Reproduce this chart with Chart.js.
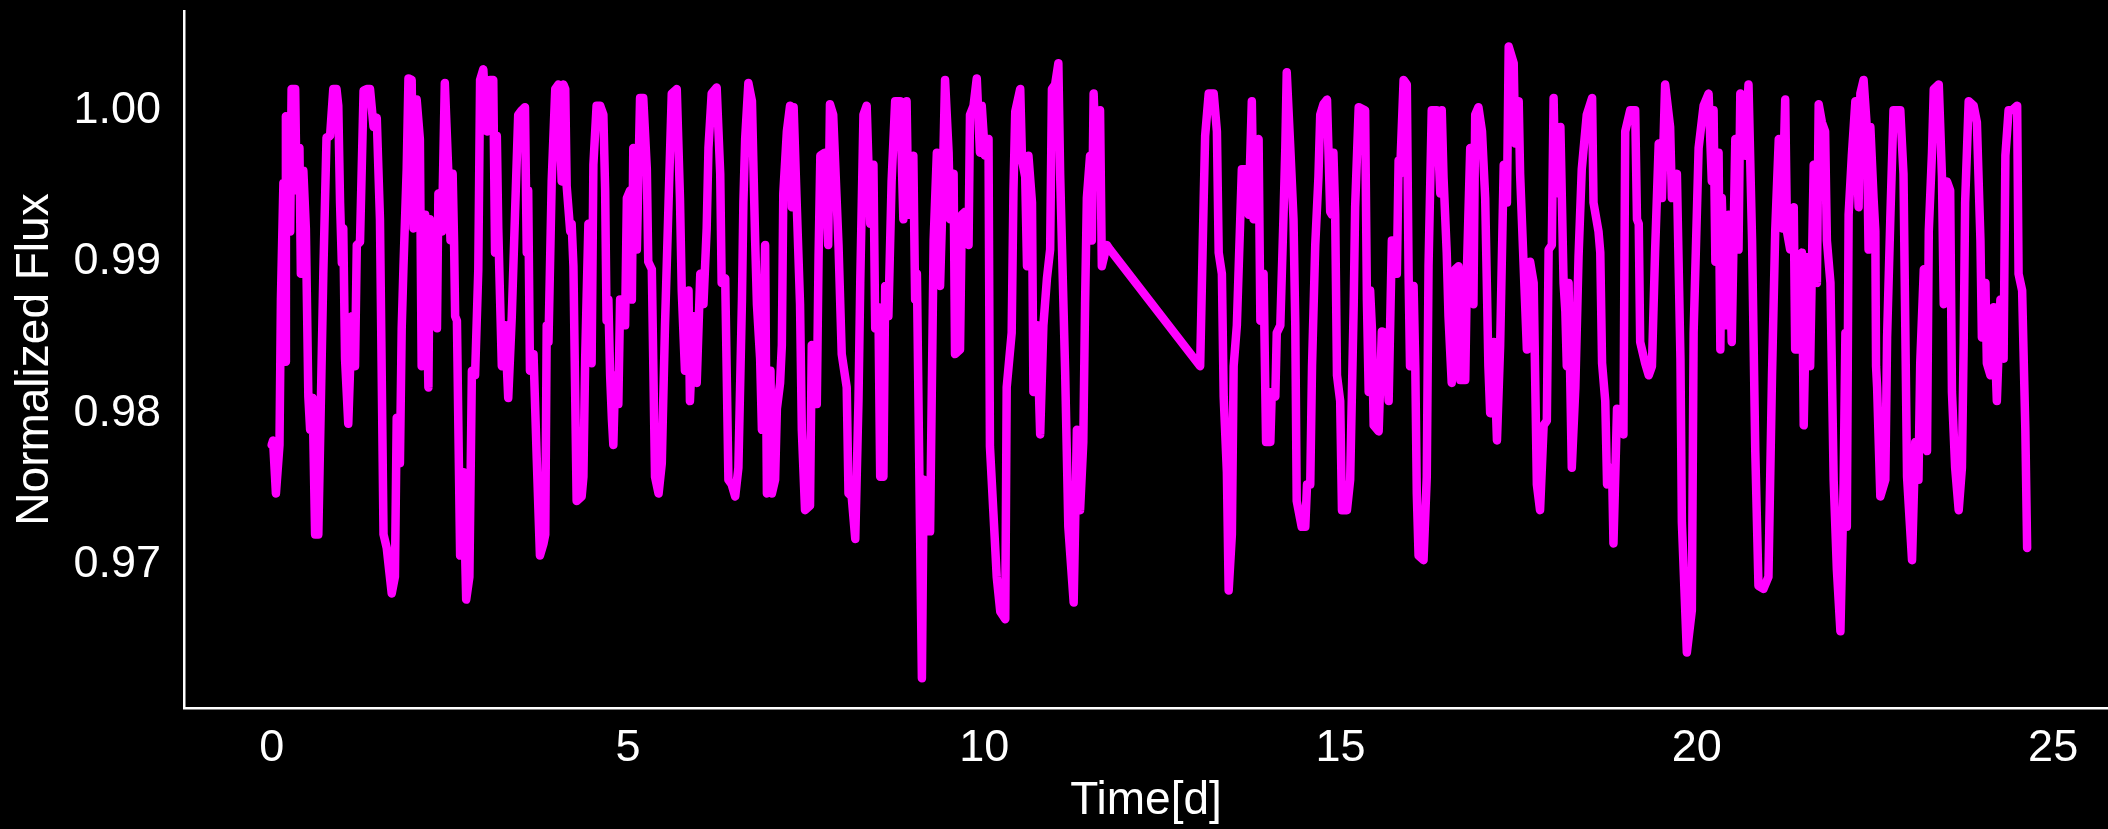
<!DOCTYPE html>
<html>
<head>
<meta charset="utf-8">
<script src="https://cdn.jsdelivr.net/npm/chart.js@4"></script>
<style>
  html, body { margin: 0; padding: 0; background: #000; }
  #wrap { width: 2108px; height: 829px; }
</style>
</head>
<body>
<div id="wrap"><canvas id="lc" width="2108" height="829"></canvas></div>
<script>
// light curve: [time (d), normalized flux]
const orbit1 = [
  [0.00, 0.9779], [0.02, 0.9782], [0.06, 0.9747], [0.11, 0.9779], [0.13, 0.9875], [0.165, 0.9952],
  [0.19, 0.9834], [0.20, 0.9996], [0.26, 0.9920], [0.28, 1.0014], [0.33, 1.0014], [0.35, 0.9947],
  [0.39, 0.9975], [0.41, 0.9892], [0.445, 0.9960], [0.48, 0.9922], [0.515, 0.9811], [0.54, 0.9789],
  [0.575, 0.9810], [0.61, 0.9720], [0.655, 0.9720], [0.725, 0.9892], [0.77, 0.9982], [0.82, 0.9983],
  [0.865, 1.0014], [0.91, 1.0014], [0.935, 1.0003], [0.96, 0.9939], [0.985, 0.9899], [1.005, 0.9922],
  [1.03, 0.9836], [1.075, 0.9793], [1.125, 0.9864], [1.17, 0.9831], [1.195, 0.9911], [1.24, 0.9913],
  [1.29, 1.0013], [1.335, 1.0014], [1.38, 1.0014], [1.43, 0.9989], [1.475, 0.9995], [1.52, 0.9928],
  [1.57, 0.9720], [1.615, 0.9711], [1.685, 0.9681], [1.73, 0.9692], [1.755, 0.9797], [1.80, 0.9767],
  [1.825, 0.9856], [1.85, 0.9897], [1.895, 0.9961], [1.92, 1.0021], [1.965, 1.0020], [1.99, 0.9922],
  [2.035, 1.0007], [2.08, 0.9981], [2.105, 0.9831], [2.155, 0.9931], [2.20, 0.9817],
  [2.22, 0.9928], [2.27, 0.9903], [2.32, 0.9856], [2.34, 0.9945], [2.39, 0.9920], [2.43, 1.0018],
  [2.48, 0.9958], [2.51, 0.9914], [2.54, 0.9958], [2.56, 0.9913], [2.575, 0.9864], [2.60, 0.9861],
  [2.645, 0.9706], [2.69, 0.9761], [2.73, 0.9677], [2.775, 0.9692], [2.81, 0.9828], [2.855, 0.9825],
  [2.90, 0.9895], [2.925, 1.0020], [2.97, 1.0027], [3.02, 0.9986], [3.065, 1.0020], [3.11, 1.0020],
  [3.135, 0.9906], [3.16, 0.9983], [3.18, 0.9922], [3.23, 0.9831], [3.275, 0.9858], [3.32, 0.9810],
  [3.37, 0.9864], [3.415, 0.9931], [3.46, 0.9997], [3.51, 1.0000], [3.555, 1.0002], [3.58, 0.9906],
  [3.60, 0.9947], [3.625, 0.9828], [3.675, 0.9839], [3.72, 0.9770], [3.765, 0.9706], [3.815, 0.9714],
  [3.84, 0.9720], [3.86, 0.9858], [3.885, 0.9847], [3.93, 0.9953], [3.98, 1.0014], [4.025, 1.0017],
  [4.07, 0.9953], [4.095, 1.0017], [4.12, 1.0014], [4.14, 0.9950], [4.19, 0.9920], [4.21, 0.9925],
  [4.235, 0.9897], [4.28, 0.9742], [4.35, 0.9745], [4.375, 0.9758], [4.40, 0.9836], [4.445, 0.9925],
  [4.49, 0.9833], [4.515, 0.9964], [4.56, 1.0003],
  [4.61, 1.0003], [4.655, 0.9997], [4.68, 0.9947], [4.70, 0.9861], [4.725, 0.9875], [4.75, 0.9825],
  [4.775, 0.9796], [4.795, 0.9779], [4.82, 0.9825], [4.865, 0.9806], [4.89, 0.9875], [4.915, 0.9875],
  [4.96, 0.9858], [4.985, 0.9942], [5.03, 0.9947], [5.055, 0.9875], [5.075, 0.9975], [5.125, 0.9908],
  [5.17, 1.0008], [5.215, 1.0008], [5.265, 0.9961], [5.285, 0.9900], [5.335, 0.9895], [5.38, 0.9758],
  [5.43, 0.9747], [5.475, 0.9767], [5.52, 0.9858], [5.57, 0.9939], [5.615, 1.0011], [5.685, 1.0014],
  [5.73, 0.9942], [5.755, 0.9881], [5.80, 0.9828], [5.85, 0.9881], [5.87, 0.9808], [5.92, 0.9864],
  [5.965, 0.9820], [6.015, 0.9892], [6.06, 0.9872], [6.105, 0.9922], [6.13, 0.9975], [6.175, 1.0011],
  [6.245, 1.0015], [6.295, 0.9958], [6.315, 0.9886], [6.365, 0.9889], [6.41, 0.9756], [6.455, 0.9753],
  [6.505, 0.9745], [6.55, 0.9764], [6.60, 0.9875], [6.62, 0.9939], [6.645, 0.9981], [6.69, 1.0018],
  [6.74, 1.0006], [6.785, 0.9914], [6.81, 0.9872], [6.855, 0.9836], [6.88, 0.9789], [6.925, 0.9911],
  [6.95, 0.9747],
  [7.00, 0.9828], [7.02, 0.9747], [7.065, 0.9756], [7.09, 0.9803], [7.135, 0.9820], [7.16, 0.9845],
  [7.18, 0.9945], [7.23, 0.9986], [7.275, 1.0003], [7.30, 0.9936], [7.325, 1.0002], [7.37, 0.9936],
  [7.415, 0.9872], [7.44, 0.9789], [7.485, 0.9736], [7.555, 0.9739], [7.58, 0.9845], [7.65, 0.9806],
  [7.675, 0.9903], [7.70, 0.9970], [7.765, 0.9972], [7.81, 0.9911], [7.835, 1.0004], [7.88, 0.9997],
  [7.955, 0.9911], [8.00, 0.9839], [8.07, 0.9817], [8.095, 0.9747], [8.14, 0.9745], [8.19, 0.9717],
  [8.235, 0.9808], [8.26, 0.9886], [8.305, 0.9997], [8.35, 1.0003], [8.40, 0.9925], [8.445, 0.9964],
  [8.47, 0.9856], [8.515, 0.9870], [8.54, 0.9758], [8.585, 0.9758], [8.61, 0.9884], [8.655, 0.9864],
  [8.70, 0.9953], [8.75, 1.0006], [8.82, 1.0006], [8.865, 0.9928], [8.91, 1.0006], [8.935, 0.9931],
  [9.005, 0.9970], [9.03, 0.9875], [9.055, 0.9892], [9.10, 0.9720], [9.125, 0.9625], [9.15, 0.9756],
  [9.195, 0.9722], [9.24, 0.9722], [9.29, 0.9914], [9.335, 0.9972],
  [9.38, 0.9884], [9.405, 0.9925], [9.45, 1.0020], [9.50, 0.9972], [9.52, 0.9928], [9.57, 0.9958],
  [9.59, 0.9839], [9.66, 0.9842], [9.685, 0.9931], [9.73, 0.9933], [9.78, 0.9911], [9.80, 0.9997],
  [9.85, 1.0003], [9.895, 1.0021], [9.94, 0.9972], [9.965, 1.0003], [10.01, 0.9970], [10.06, 0.9981],
  [10.08, 0.9778], [10.13, 0.9733], [10.175, 0.9692], [10.225, 0.9669], [10.295, 0.9664], [10.315, 0.9817],
  [10.385, 0.9853], [10.41, 0.9947], [10.435, 0.9999], [10.505, 1.0014], [10.53, 0.9967], [10.575, 0.9956],
  [10.60, 0.9897], [10.62, 0.9970], [10.67, 0.9939], [10.69, 0.9814], [10.74, 0.9858], [10.785, 0.9786],
  [10.83, 0.9858], [10.88, 0.9889], [10.925, 0.9908], [10.95, 1.0014], [10.995, 1.0017], [11.04, 1.0031],
  [11.065, 0.9958], [11.135, 0.9828], [11.18, 0.9725], [11.255, 0.9675], [11.30, 0.9789], [11.345, 0.9736],
  [11.39, 0.9781], [11.415, 0.9872], [11.44, 0.9942], [11.485, 0.9970], [11.51, 0.9914], [11.535, 1.0011],
  [11.58, 0.9950], [11.625, 1.0000], [11.65, 0.9897], [11.72, 0.9911], [11.765, 0.9908]
];

const orbit2 = [
  [13.03, 0.9831], [13.08, 0.9942], [13.10, 0.9983], [13.15, 1.0011], [13.22, 1.0011], [13.265, 0.9986],
  [13.29, 0.9906], [13.335, 0.9892], [13.36, 0.9811], [13.405, 0.9761], [13.43, 0.9683], [13.475, 0.9720],
  [13.50, 0.9831], [13.545, 0.9858], [13.615, 0.9961], [13.66, 0.9961], [13.71, 0.9931], [13.755, 1.0006],
  [13.78, 0.9928], [13.80, 0.9978], [13.85, 0.9981], [13.875, 0.9861], [13.92, 0.9892], [13.955, 0.9781],
  [14.015, 0.9781], [14.035, 0.9814], [14.085, 0.9811], [14.105, 0.9853], [14.155, 0.9858], [14.20, 0.9931],
  [14.225, 0.9975], [14.245, 1.0025], [14.295, 0.9975], [14.34, 0.9928], [14.365, 0.9858], [14.385, 0.9742],
  [14.455, 0.9725], [14.505, 0.9725], [14.53, 0.9753], [14.575, 0.9753], [14.60, 0.9831], [14.645, 0.9911],
  [14.69, 0.9956], [14.715, 0.9997], [14.76, 1.0004], [14.81, 1.0007], [14.855, 0.9933], [14.88, 0.9931],
  [14.90, 0.9972], [14.925, 0.9931], [14.95, 0.9825], [14.995, 0.9808], [15.02, 0.9736], [15.09, 0.9736],
  [15.135, 0.9756], [15.185, 0.9872], [15.205, 0.9936], [15.255, 1.0002],
  [15.345, 1.0000], [15.37, 0.9875], [15.395, 0.9814], [15.415, 0.9881], [15.44, 0.9856], [15.465, 0.9792],
  [15.535, 0.9788], [15.58, 0.9854], [15.625, 0.9853], [15.675, 0.9808], [15.72, 0.9914], [15.765, 0.9914],
  [15.79, 0.9892], [15.815, 0.9967], [15.835, 0.9958], [15.885, 1.0020], [15.93, 1.0017], [15.955, 0.9892],
  [15.975, 0.9831], [16.025, 0.9884], [16.05, 0.9828], [16.07, 0.9747], [16.095, 0.9706], [16.165, 0.9703],
  [16.21, 0.9758], [16.235, 0.9897], [16.28, 1.0000], [16.35, 1.0000], [16.40, 0.9945], [16.42, 1.0000],
  [16.445, 0.9956], [16.49, 0.9906], [16.515, 0.9864], [16.56, 0.9820], [16.61, 0.9895], [16.655, 0.9897],
  [16.68, 0.9822], [16.75, 0.9822], [16.775, 0.9897], [16.82, 0.9975], [16.865, 0.9872], [16.89, 0.9997],
  [16.935, 1.0002], [16.985, 0.9986], [17.03, 0.9942], [17.075, 0.9831], [17.10, 0.9800], [17.15, 0.9847],
  [17.195, 0.9782], [17.24, 0.9845], [17.29, 0.9964], [17.335, 0.9939], [17.36, 1.0042], [17.43, 1.0031],
  [17.45, 0.9978], [17.50, 1.0006], [17.52, 0.9958], [17.57, 0.9897], [17.615, 0.9842],
  [17.66, 0.9900], [17.71, 0.9886], [17.755, 0.9753], [17.80, 0.9736], [17.85, 0.9792], [17.895, 0.9795],
  [17.92, 0.9908], [17.965, 0.9911], [17.99, 1.0008], [18.015, 0.9945], [18.085, 0.9989], [18.13, 0.9886],
  [18.155, 0.9867], [18.175, 0.9831], [18.20, 0.9886], [18.245, 0.9764], [18.295, 0.9817], [18.34, 0.9903],
  [18.385, 0.9961], [18.455, 0.9997], [18.53, 1.0008], [18.55, 0.9939], [18.62, 0.9920], [18.645, 0.9906],
  [18.67, 0.9833], [18.715, 0.9808], [18.74, 0.9753], [18.81, 0.9764], [18.83, 0.9714], [18.88, 0.9803],
  [18.97, 0.9786], [18.995, 0.9986], [19.065, 1.0000], [19.135, 1.0000], [19.16, 0.9928], [19.185, 0.9925],
  [19.205, 0.9847], [19.275, 0.9833], [19.325, 0.9825], [19.37, 0.9831], [19.415, 0.9908], [19.465, 0.9978],
  [19.51, 0.9942], [19.555, 1.0017], [19.625, 0.9989], [19.65, 0.9942], [19.72, 0.9958], [19.77, 0.9836],
  [19.79, 0.9728], [19.86, 0.9642], [19.93, 0.9670], [19.955, 0.9853], [20.025, 0.9975],
  [20.095, 1.0003], [20.165, 1.0011], [20.21, 0.9953], [20.235, 1.0000], [20.26, 0.9900], [20.305, 0.9972],
  [20.33, 0.9842], [20.35, 0.9942], [20.40, 0.9858], [20.445, 0.9931], [20.49, 0.9847], [20.54, 0.9981],
  [20.585, 0.9908], [20.61, 1.0011], [20.68, 0.9970], [20.725, 1.0017], [20.775, 0.9914], [20.82, 0.9775],
  [20.865, 0.9686], [20.935, 0.9684], [21.005, 0.9692], [21.055, 0.9825], [21.10, 0.9920], [21.15, 0.9981],
  [21.195, 0.9922], [21.24, 1.0007], [21.265, 0.9920], [21.31, 0.9908], [21.36, 0.9936], [21.38, 0.9842],
  [21.43, 0.9842], [21.475, 0.9906], [21.50, 0.9792], [21.545, 0.9903], [21.59, 0.9831], [21.64, 0.9964],
  [21.685, 0.9886], [21.71, 1.0004], [21.755, 0.9992], [21.80, 0.9986], [21.825, 0.9914], [21.875, 0.9886],
  [21.92, 0.9756], [21.965, 0.9697], [22.015, 0.9656], [22.06, 0.9753], [22.085, 0.9853], [22.105, 0.9725],
  [22.13, 0.9931], [22.175, 0.9970], [22.225, 1.0006], [22.27, 0.9936], [22.295, 1.0011], [22.34, 1.0020],
  [22.385, 0.9989], [22.41, 0.9908],
  [22.435, 0.9989], [22.48, 0.9942], [22.505, 0.9920], [22.515, 0.9831], [22.53, 0.9817], [22.575, 0.9745],
  [22.645, 0.9756], [22.67, 0.9850], [22.715, 0.9928], [22.76, 1.0000], [22.855, 1.0000], [22.90, 0.9958],
  [22.925, 0.9858], [22.95, 0.9758], [23.02, 0.9703], [23.065, 0.9781], [23.11, 0.9756], [23.135, 0.9833],
  [23.185, 0.9895], [23.23, 0.9775], [23.255, 0.9920], [23.30, 0.9972], [23.325, 1.0014], [23.395, 1.0017],
  [23.44, 0.9956], [23.465, 0.9872], [23.51, 0.9953], [23.555, 0.9947], [23.58, 0.9814], [23.625, 0.9764],
  [23.675, 0.9736], [23.72, 0.9764], [23.745, 0.9847], [23.765, 0.9939], [23.815, 1.0006], [23.885, 1.0003],
  [23.93, 0.9992], [23.98, 0.9914], [24.00, 0.9850], [24.05, 0.9886], [24.07, 0.9833], [24.12, 0.9825],
  [24.165, 0.9870], [24.21, 0.9808], [24.26, 0.9875], [24.305, 0.9836], [24.33, 0.9970], [24.375, 1.0000],
  [24.425, 1.0000], [24.495, 1.0003], [24.515, 0.9892], [24.565, 0.9881], [24.61, 0.9789], [24.635, 0.9711]
];

const xTicks = [0, 5, 10, 15, 20, 25];
const yTicks = [0.97, 0.98, 0.99, 1.00];

const points = orbit1.concat(orbit2).map(p => ({ x: p[0], y: p[1] }));

const family = "'Liberation Sans', Arial, Helvetica, sans-serif";
const tickFont = { family: family, size: 45 };
const titleFont = { family: family, size: 46 };

const ctx = document.getElementById("lc").getContext("2d");

new Chart(ctx, {
  type: "line",
  data: {
    datasets: [{
      data: points,
      borderColor: "#ff00ff",
      borderWidth: 8.5,
      borderJoinStyle: "round",
      borderCapStyle: "round",
      pointRadius: 0,
      tension: 0,
      fill: false
    }]
  },
  options: {
    responsive: false,
    devicePixelRatio: 1,
    animation: false,
    layout: { padding: { top: 11, right: 0, left: 0, bottom: 0 } },
    plugins: { legend: { display: false }, tooltip: { enabled: false } },
    scales: {
      x: {
        type: "linear",
        min: -1.23,
        max: 25.77,
        afterBuildTicks: s => { s.ticks = xTicks.map(v => ({ value: v })); },
        afterFit: s => { s.height = 121; s.paddingLeft = 0; s.paddingRight = 0; },
        grid: { display: false, drawTicks: false },
        border: { display: true, color: "#ffffff", width: 2.5 },
        ticks: { color: "#ffffff", font: tickFont, padding: 14, maxRotation: 0, callback: v => String(v) },
        title: { display: true, text: "Time[d]", color: "#ffffff", font: titleFont, padding: { top: 0, bottom: 0 } }
      },
      y: {
        min: 0.96054,
        max: 1.00655,
        afterBuildTicks: s => { s.ticks = yTicks.map(v => ({ value: v })); },
        afterFit: s => { s.width = 184; s.paddingTop = 0; s.paddingBottom = 0; },
        grid: { display: false, drawTicks: false },
        border: { display: true, color: "#ffffff", width: 2.5 },
        ticks: { color: "#ffffff", font: tickFont, padding: 23, callback: v => v.toFixed(2) },
        title: { display: true, text: "Normalized Flux", color: "#ffffff", font: titleFont, padding: { top: 8, bottom: 0 } }
      }
    }
  }
});
</script>
</body>
</html>
